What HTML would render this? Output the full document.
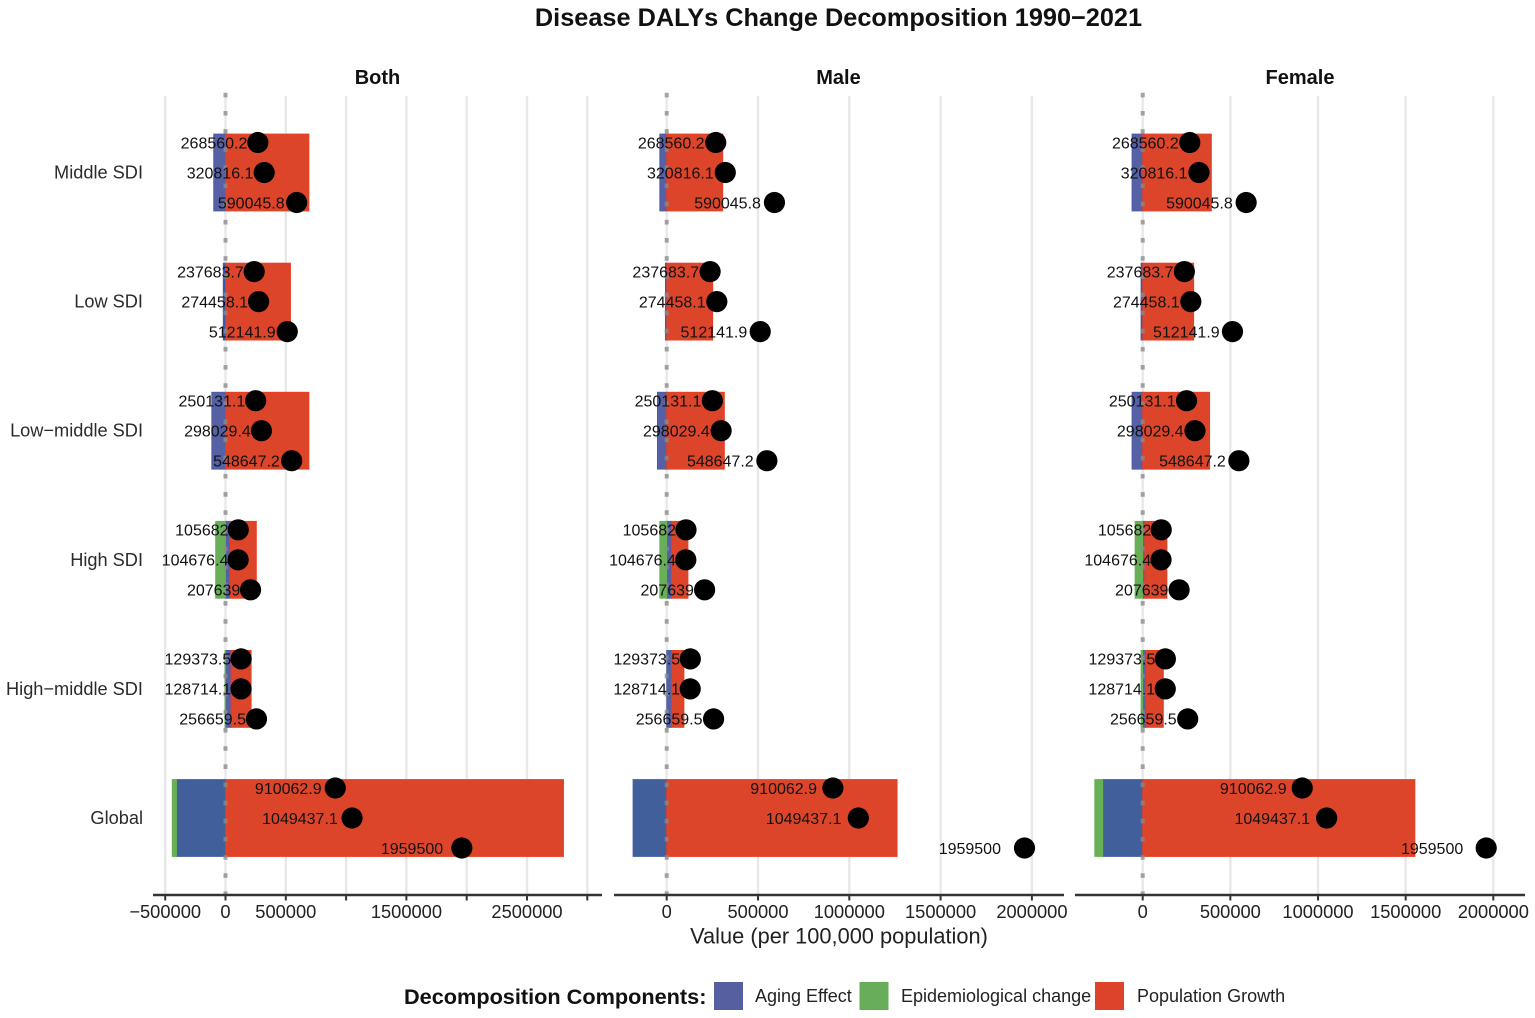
<!DOCTYPE html>
<html lang="en">
<head>
<meta charset="utf-8">
<title>Disease DALYs Change Decomposition 1990−2021</title>
<style>
html,body{margin:0;padding:0;background:#fff;width:1535px;height:1018px;overflow:hidden}
svg{display:block;font-family:"Liberation Sans",sans-serif}
</style>
</head>
<body>
<svg id="chart" xmlns="http://www.w3.org/2000/svg" width="1535" height="1018" viewBox="0 0 1535 1018">
<rect x="0" y="0" width="1535" height="1018" fill="#fff"/>
<text x="838.5" y="26" text-anchor="middle" font-size="25.3" font-weight="700" fill="#111">Disease DALYs Change Decomposition 1990−2021</text>
<text x="839" y="943.5" text-anchor="middle" font-size="21.8" fill="#222">Value (per 100,000 population)</text>
<g>
<text x="404" y="1004" font-size="21.7" font-weight="700" fill="#111">Decomposition Components:</text>
<rect x="714" y="982" width="29" height="28" fill="#565f9f"/>
<text x="755" y="1002" font-size="18" fill="#222">Aging Effect</text>
<rect x="859.5" y="982" width="29" height="28" fill="#68ae5a"/>
<text x="901" y="1002" font-size="18" fill="#222">Epidemiological change</text>
<rect x="1095" y="982" width="29" height="28" fill="#dc432a"/>
<text x="1137" y="1002" font-size="18" fill="#222">Population Growth</text>
</g>
</svg>
<script>
// Categories, top to bottom
var categories = ["Middle SDI", "Low SDI", "Low−middle SDI", "High SDI", "High−middle SDI", "Global"];

// Printed point values (three per category, identical in every facet)
var pointTop = [268560.2, 237683.7, 250131.1, 105682, 129373.5, 910062.9];
var pointMid = [320816.1, 274458.1, 298029.4, 104676.4, 128714.1, 1049437.1];
var pointBottom = [590045.8, 512141.9, 548647.2, 207639, 256659.5, 1959500];

// Bar components, facet "Both"
var bothAging = [-98000, -19000, -114000, 36000, 46000, -406000];
var bothEpi = [0, 0, 0, -82000, -5000, -36000];
var bothPopulation = [692000, 539000, 692000, 220000, 167000, 2803000];

// Bar components, facet "Male"
var maleAging = [-38000, -7300, -51000, 25600, 27000, -184500];
var maleEpi = [0, 0, 0, -38000, 0, 0];
var malePopulation = [307000, 252000, 316000, 91000, 67600, 1262000];

// Bar components, facet "Female"
var femaleAging = [-61000, -9700, -61000, 11400, 17000, -228000];
var femaleEpi = [0, 0, 0, -43700, -9500, -45600];
var femalePopulation = [392000, 291000, 382000, 127000, 101000, 1553000];

// Axis ticks
var bothTicks = [-500000, 0, 500000, 1000000, 1500000, 2000000, 2500000, 3000000];
var bothTickLabels = ["−500000", "0", "500000", "", "1500000", "", "2500000", ""];
var sideTicks = [0, 500000, 1000000, 1500000, 2000000];
var sideTickLabels = ["0", "500000", "1000000", "1500000", "2000000"];

var SVGNS = "http://www.w3.org/2000/svg";
var svg = document.getElementById("chart");

function mk(tag, parent, attrs, txt) {
  var el = document.createElementNS(SVGNS, tag);
  for (var k in attrs) { el.setAttribute(k, attrs[k]); }
  if (txt !== undefined) { el.textContent = txt; }
  parent.appendChild(el);
  return el;
}
function linear(zeroPx, pxPerMillion) {
  return function (v) { return zeroPx + v * pxPerMillion / 1e6; };
}
function slug(s) {
  return s.toLowerCase().replace(/[^a-z]+/g, "-");
}

var rowY = function (i) { return 172.5 + i * 129.1; };
var BAR_HALF = 38.5;
var DOT_STEP = 30;
var PLOT_TOP = 96, AXIS_Y = 895;

var facets = [
  { name: "Both", x: linear(225.5, 120.6), left: 153, right: 602, titleX: 377.5,
    aging: bothAging, epi: bothEpi, pop: bothPopulation, ticks: bothTicks, tickLabels: bothTickLabels },
  { name: "Male", x: linear(666.7, 182.6), left: 614, right: 1064, titleX: 838.5,
    aging: maleAging, epi: maleEpi, pop: malePopulation, ticks: sideTicks, tickLabels: sideTickLabels },
  { name: "Female", x: linear(1142.7, 175.3), left: 1075, right: 1525, titleX: 1300,
    aging: femaleAging, epi: femaleEpi, pop: femalePopulation, ticks: sideTicks, tickLabels: sideTickLabels }
];

// Y category labels
categories.forEach(function (c, i) {
  var t = mk("text", svg, { x: 143, y: rowY(i) + 6, "text-anchor": "end", "font-size": 18.2, fill: "#2b2b2b" }, c);
  
  
});

function drawSegment(g, facet, cat, comp, from, to, y, fill, stroke) {
  if (from === to) { return; }
  var x0 = facet.x(Math.min(from, to)), x1 = facet.x(Math.max(from, to));
  var r = mk("rect", g, { x: x0, y: y - BAR_HALF, width: x1 - x0, height: BAR_HALF * 2, fill: fill, stroke: stroke, "stroke-width": 0.8 });
  
  
}

facets.forEach(function (f) {
  var g = mk("g", svg, {});
  
  

  var st = mk("text", g, { x: f.titleX, y: 84, "text-anchor": "middle", "font-size": 20, "font-weight": 700, fill: "#111" }, f.name);
  
  

  // gridlines
  f.ticks.forEach(function (v) {
    var gl = mk("line", g, { x1: f.x(v), x2: f.x(v), y1: PLOT_TOP, y2: AXIS_Y, stroke: "#e8e8e8", "stroke-width": 2.4 });
    
    
  });

  // stacked bars: positive and negative stacks both grow outward from zero
  categories.forEach(function (c, i) {
    var pos = 0, neg = 0, y = rowY(i);
    var blue = c === "Global" ? "#41609b" : (c === "Low SDI" ? "#2f5bb0" : "#5560a5");
    var parts = [
      ["aging", f.aging[i], blue, "#4a5ca8"],
      ["epidemiological", f.epi[i], "#69af58", "#62b34e"],
      ["population", f.pop[i], "#dc452a", "#ea3c20"]
    ];
    parts.forEach(function (p) {
      var v = p[1];
      if (v >= 0) { drawSegment(g, f, c, p[0], pos, pos + v, y, p[2], p[3]); pos += v; }
      else { drawSegment(g, f, c, p[0], neg, neg + v, y, p[2], p[3]); neg += v; }
    });
  });

  // zero reference line
  var zl = mk("line", g, { x1: f.x(0), x2: f.x(0), y1: PLOT_TOP - 3.2, y2: AXIS_Y + 2, stroke: "#8a8a8a", "stroke-opacity": 0.78, "stroke-width": 4, "stroke-dasharray": "4.6 13.55" });
  
  

  // point labels then points
  categories.forEach(function (c, i) {
    [pointTop[i], pointMid[i], pointBottom[i]].forEach(function (v, j) {
      var y = rowY(i) + (j - 1) * DOT_STEP;
      var lab = mk("text", g, { x: f.x(v * 0.96) - 9.2, y: y + 5.8, "text-anchor": "end", "font-size": 16, fill: "#111" }, String(v));
      
      
      var dot = mk("circle", g, { cx: f.x(v), cy: y, r: 10.6, fill: "#000" });
      
      
    });
  });

  // x axis
  var ax = mk("line", g, { x1: f.left, x2: f.right, y1: AXIS_Y, y2: AXIS_Y, stroke: "#333", "stroke-width": 2.6 });
  
  
  f.ticks.forEach(function (v, i) {
    var tk = mk("line", g, { x1: f.x(v), x2: f.x(v), y1: AXIS_Y, y2: AXIS_Y + 5.5, stroke: "#333", "stroke-width": 2 });
    
    
    if (f.tickLabels[i]) {
      var tl = mk("text", g, { x: f.x(v), y: 918, "text-anchor": "middle", "font-size": 18.3, fill: "#222" }, f.tickLabels[i]);
      
      
    }
  });
});
</script>
</body>
</html>
